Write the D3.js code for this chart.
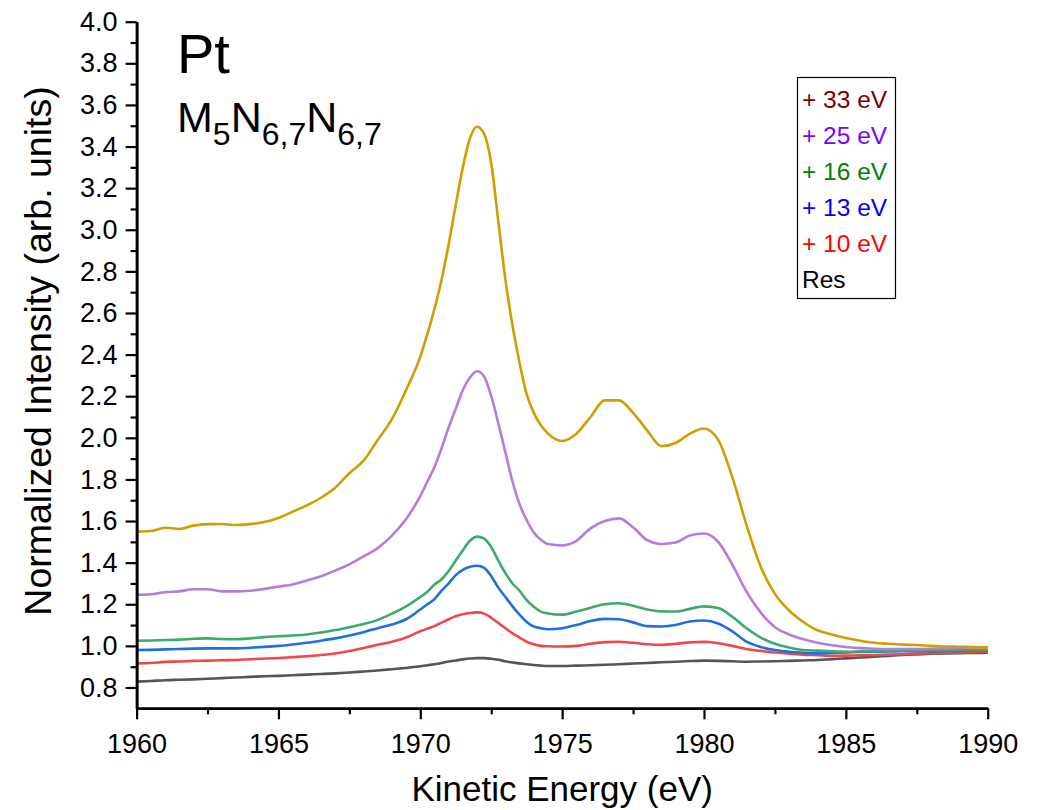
<!DOCTYPE html>
<html><head><meta charset="utf-8">
<script src="https://cdn.jsdelivr.net/npm/d3@7"></script>
<style>
html,body{margin:0;padding:0;background:#fff;}
text{font-family:"Liberation Sans",Arial,sans-serif;}
</style></head>
<body>
<svg id="chart" width="1040" height="810"></svg>
<script>
// ---- data ----
const energy = [1960,1960.5,1961,1961.5,1962,1962.5,1963,1963.5,1964,1964.5,1965,1965.5,1966,1966.5,1967,1967.5,1968,1968.5,1969,1969.5,
  1970,1970.25,1970.5,1970.75,1971,1971.25,1971.5,1971.75,1972,1972.25,1972.5,1972.75,1973,1973.25,1973.5,1973.75,1974,1974.25,1974.5,
  1975,1975.5,1976,1976.5,1977,1977.5,1978,1978.5,1979,1979.5,1980,1980.5,1981,1981.5,1982,1982.5,1983,1983.5,1984,1984.5,
  1985,1985.5,1986,1986.5,1987,1987.5,1988,1988.5,1989,1989.5,1990];

const plus33 = [1.549,1.552,1.568,1.562,1.578,1.585,1.586,1.581,1.585,1.595,1.615,1.645,1.675,1.712,1.76,1.83,1.89,1.99,2.09,2.23,
  2.39,2.50,2.62,2.76,2.93,3.12,3.30,3.44,3.495,3.46,3.32,3.04,2.76,2.54,2.36,2.21,2.12,2.06,2.02,
  1.985,2.02,2.10,2.18,2.18,2.12,2.035,1.96,1.975,2.02,2.045,1.99,1.81,1.58,1.38,1.25,1.17,1.115,1.075,1.055,
  1.038,1.025,1.015,1.01,1.006,1.004,1.0,0.997,0.996,0.994,0.993];

const plus25 = [1.245,1.248,1.258,1.262,1.272,1.272,1.262,1.262,1.265,1.274,1.285,1.295,1.314,1.335,1.362,1.392,1.43,1.47,1.53,1.61,
  1.72,1.79,1.86,1.95,2.05,2.14,2.23,2.29,2.32,2.295,2.20,2.07,1.93,1.79,1.68,1.605,1.545,1.51,1.49,
  1.483,1.505,1.565,1.60,1.613,1.57,1.508,1.49,1.497,1.53,1.54,1.50,1.39,1.26,1.16,1.09,1.055,1.032,1.015,1.003,
  0.995,0.989,0.986,0.985,0.985,0.985,0.986,0.988,0.99,0.992,0.993];

const plus16 = [1.025,1.026,1.028,1.03,1.034,1.036,1.033,1.032,1.036,1.042,1.046,1.05,1.055,1.064,1.076,1.09,1.105,1.125,1.155,1.19,
  1.235,1.26,1.295,1.32,1.36,1.41,1.46,1.505,1.525,1.515,1.475,1.41,1.35,1.30,1.265,1.22,1.188,1.165,1.156,
  1.15,1.165,1.183,1.2,1.205,1.193,1.175,1.166,1.165,1.178,1.19,1.182,1.14,1.085,1.04,1.01,0.992,0.98,0.977,0.974,
  0.972,0.973,0.975,0.976,0.977,0.978,0.979,0.979,0.98,0.98,0.98];

const plus13 = [0.98,0.981,0.983,0.985,0.987,0.988,0.988,0.988,0.991,0.995,1.0,1.007,1.015,1.025,1.036,1.05,1.066,1.085,1.103,1.128,
  1.175,1.2,1.225,1.265,1.30,1.34,1.365,1.38,1.385,1.375,1.335,1.28,1.235,1.19,1.15,1.115,1.093,1.085,1.08,
  1.085,1.1,1.12,1.13,1.128,1.113,1.095,1.093,1.1,1.117,1.122,1.108,1.07,1.02,0.995,0.98,0.972,0.967,0.964,0.966,
  0.968,0.971,0.972,0.973,0.974,0.975,0.975,0.976,0.976,0.977,0.977];

const plus10 = [0.916,0.918,0.923,0.925,0.928,0.929,0.931,0.932,0.936,0.939,0.942,0.946,0.95,0.956,0.963,0.975,0.99,1.005,1.02,1.04,
  1.07,1.083,1.095,1.112,1.128,1.143,1.152,1.158,1.161,1.155,1.135,1.11,1.085,1.06,1.04,1.02,1.008,1.0,0.998,
  0.997,1.0,1.01,1.018,1.02,1.015,1.008,1.005,1.01,1.017,1.02,1.013,1.0,0.985,0.976,0.968,0.963,0.958,0.955,0.952,
  0.953,0.955,0.956,0.958,0.96,0.963,0.965,0.967,0.969,0.971,0.972];

const res = [0.828,0.831,0.835,0.837,0.839,0.842,0.845,0.848,0.851,0.854,0.856,0.859,0.862,0.865,0.868,0.872,0.877,0.882,0.888,0.894,
  0.902,0.907,0.912,0.918,0.925,0.93,0.935,0.939,0.941,0.941,0.938,0.933,0.926,0.92,0.916,0.912,0.908,0.905,0.903,
  0.903,0.905,0.907,0.909,0.912,0.915,0.918,0.921,0.924,0.927,0.929,0.928,0.926,0.924,0.925,0.926,0.928,0.93,0.932,0.936,
  0.94,0.944,0.948,0.952,0.956,0.959,0.962,0.964,0.965,0.966,0.967];

const seriesNames = ["Res","+ 10 eV","+ 13 eV","+ 16 eV","+ 25 eV","+ 33 eV"];
const seriesValues = [res, plus10, plus13, plus16, plus25, plus33];
const lineColors = ["#555555","#F04848","#1F6FE3","#3BAA6C","#B47BE0","#D29D00"];
const legendColors = ["#000000","#FF0000","#0000FF","#008000","#8000FF","#800000"];

const xTicks = [1960,1965,1970,1975,1980,1985,1990];
const xMinor = [1962.5,1967.5,1972.5,1977.5,1982.5,1987.5];
const yTicks = [0.8,1.0,1.2,1.4,1.6,1.8,2.0,2.2,2.4,2.6,2.8,3.0,3.2,3.4,3.6,3.8,4.0];
const yMinor = [0.9,1.1,1.3,1.5,1.7,1.9,2.1,2.3,2.5,2.7,2.9,3.1,3.3,3.5,3.7,3.9];

// ---- drawing ----
const svg = d3.select("#chart");
const L = 136.6, R = 987.7, T = 21.7, B = 708.3;
const x = d3.scaleLinear().domain([1960,1990]).range([L,R]);
const y = d3.scaleLinear().domain([0.7,4.0]).range([B,T]);

const line = d3.line().x(d => x(d[0])).y(d => y(d[1])).curve(d3.curveMonotoneX);
const plot = svg.append("g");
seriesValues.forEach((vals, i) => {
  plot.append("path")
    .datum(energy.map((e, j) => [e, vals[j]]))
    .attr("fill","none")
    .attr("stroke", lineColors[i])
    .attr("stroke-width", 2.6)
    .attr("stroke-linejoin","round")
    .attr("d", line);
});

// axes
const fontTick = 27;
const xMinorAxis = d3.axisBottom(x).tickValues(xMinor).tickSize(6).tickFormat("").tickSizeOuter(0);
const yMinorAxis = d3.axisLeft(y).tickValues(yMinor).tickSize(6).tickFormat("").tickSizeOuter(0);
svg.append("g").attr("transform",`translate(0,${B})`).call(xMinorAxis);
svg.append("g").attr("transform",`translate(${L},0)`).call(yMinorAxis);

const xAxis = d3.axisBottom(x).tickValues(xTicks).tickSize(11).tickPadding(15).tickFormat(d3.format("d")).tickSizeOuter(0);
const yAxis = d3.axisLeft(y).tickValues(yTicks).tickSize(11).tickPadding(8).tickFormat(d3.format(".1f")).tickSizeOuter(0);
svg.append("g").attr("transform",`translate(0,${B})`).call(xAxis);
svg.append("g").attr("transform",`translate(${L},0)`).call(yAxis);

svg.selectAll(".domain, .tick line").attr("stroke","#000").attr("stroke-width",2.2);
svg.selectAll(".domain").attr("stroke-width",2.6);
svg.selectAll(".tick text").attr("font-size",fontTick).attr("fill","#000")
  .attr("font-family","'Liberation Sans',Arial,sans-serif");

// axis titles
svg.append("text").attr("x",(L+R)/2).attr("y",801).attr("text-anchor","middle")
  .attr("font-size",35).attr("fill","#000").text("Kinetic Energy (eV)");
svg.append("text").attr("transform",`translate(51,351) rotate(-90)`)
  .attr("text-anchor","middle").attr("font-size",37.5).attr("fill","#000")
  .text("Normalized Intensity (arb. units)");

// annotations
svg.append("text").attr("x",177).attr("y",73).attr("font-size",56).attr("fill","#000").text("Pt");
const ann = svg.append("text").attr("x",177).attr("y",132).attr("font-size",43).attr("fill","#000");
const parts = [["M",0],["5",1],["N",0],["6,7",1],["N",0],["6,7",1]];
let prevSub = 0;
parts.forEach(([t, sub]) => {
  const dy = (sub - prevSub) * 13;
  ann.append("tspan").attr("dy", dy).attr("font-size", sub ? 32 : 43).text(t);
  prevSub = sub;
});

// legend
const legend = svg.append("g");
legend.append("rect").attr("x",797.5).attr("y",77.5).attr("width",98).attr("height",221)
  .attr("fill","#fff").attr("stroke","#000").attr("stroke-width",1.2);
const order = [5,4,3,2,1,0];
order.forEach((si, k) => {
  legend.append("text").attr("x",802).attr("y",108 + k*36)
    .attr("font-size",24.5).attr("fill",legendColors[si]).text(seriesNames[si]);
});
</script>
</body></html>
